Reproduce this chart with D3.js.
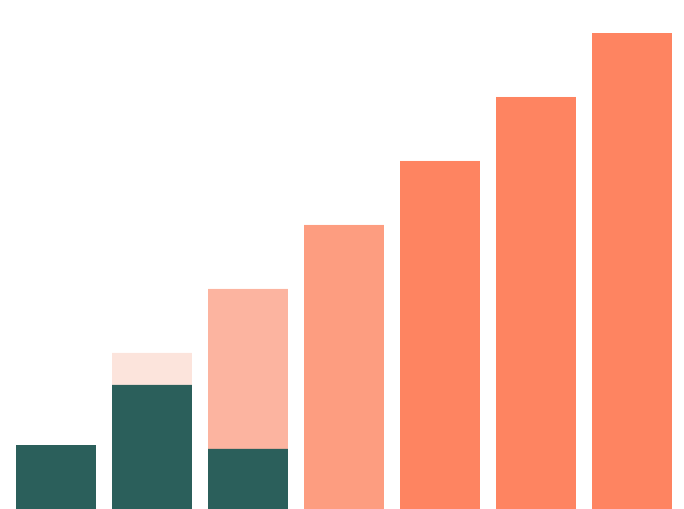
<!DOCTYPE html>
<html>
<head>
<meta charset="utf-8">
<script src="https://cdn.jsdelivr.net/npm/d3@7"></script>
<style>
  html, body { margin: 0; padding: 0; background: #ffffff; }
  svg { display: block; }
</style>
</head>
<body>
<svg id="chart" width="684" height="509"></svg>
<script>
// Data
const categories = ["A", "B", "C", "D", "E", "F", "G"];
const totals     = [1.00, 2.44, 3.44, 4.44, 5.44, 6.44, 7.44];
const darkPart   = [1.00, 1.94, 0.94, 0, 0, 0, 0];
const barColors  = ["#2b5f5b", "#fce4dc", "#fcb4a0", "#fd9d80", "#fe8461", "#fe8461", "#fe8461"];
const darkColor  = "#2b5f5b";

const svg = d3.select("#chart");
const W = 684, H = 509;

const x = d3.scaleBand()
  .domain(categories)
  .range([16, 672])
  .paddingInner(16 / 96)
  .paddingOuter(0);

const y = d3.scaleLinear()
  .domain([0, 7.44])
  .range([509, 33]);

const data = categories.map((c, i) => ({ c, total: totals[i], dark: darkPart[i], color: barColors[i] }));

svg.selectAll("rect.total")
  .data(data)
  .join("rect")
  .attr("class", "total")
  .attr("x", d => x(d.c))
  .attr("width", x.bandwidth())
  .attr("y", d => y(d.total))
  .attr("height", d => y(0) - y(d.total))
  .attr("fill", d => d.color);

svg.selectAll("rect.dark")
  .data(data.filter(d => d.dark > 0))
  .join("rect")
  .attr("class", "dark")
  .attr("x", d => x(d.c))
  .attr("width", x.bandwidth())
  .attr("y", d => y(d.dark))
  .attr("height", d => y(0) - y(d.dark))
  .attr("fill", darkColor);
</script>
</body>
</html>
